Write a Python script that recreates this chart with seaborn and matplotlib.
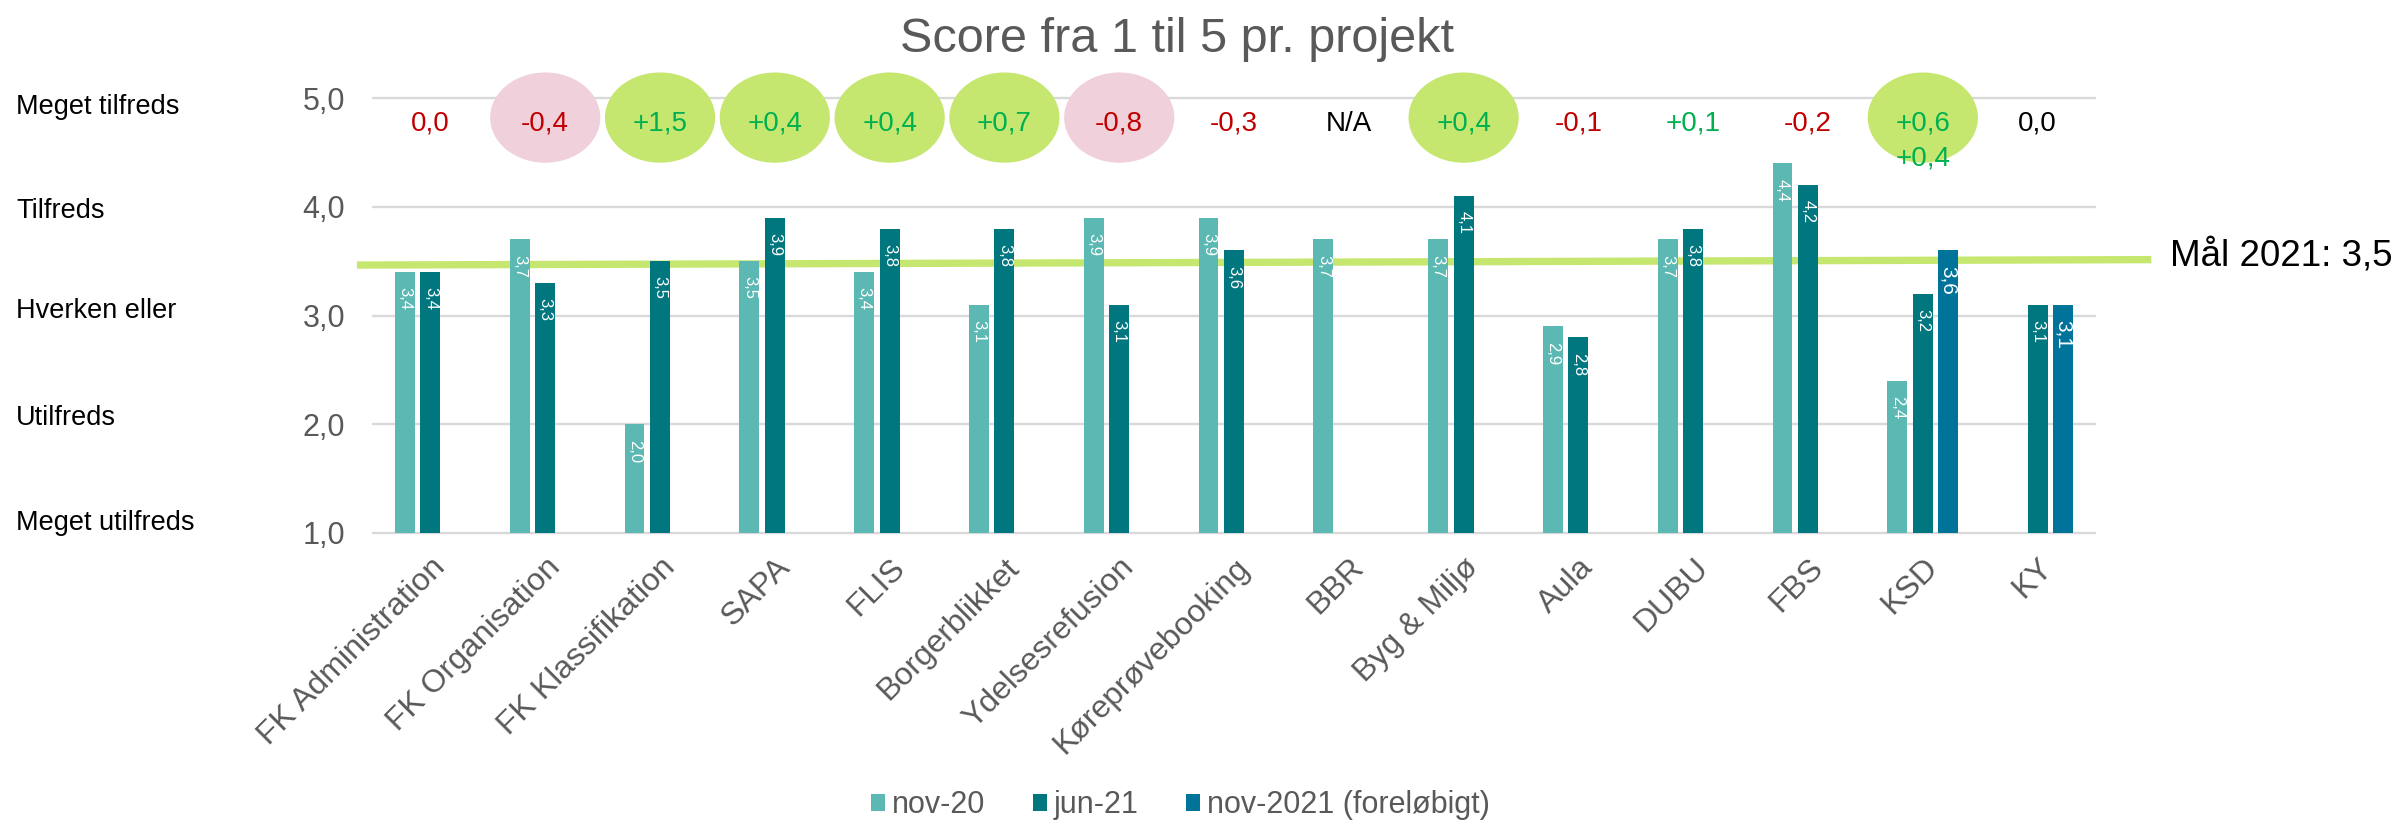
import numpy as np
import pandas as pd
import seaborn as sns
import matplotlib.pyplot as plt
from matplotlib.patches import Ellipse
from matplotlib import transforms

# Data
projects = ['FK Administration', 'FK Organisation', 'FK Klassifikation', 'SAPA', 'FLIS',
            'Borgerblikket', 'Ydelsesrefusion', 'Køreprøvebooking', 'BBR', 'Byg & Miljø',
            'Aula', 'DUBU', 'FBS', 'KSD', 'KY']
periods = ['nov-20', 'jun-21', 'nov-2021 (foreløbigt)']
nan = np.nan
nov20 = [3.4, 3.7, 2.0, 3.5, 3.4, 3.1, 3.9, 3.9, 3.7, 3.7, 2.9, 3.7, 4.4, 2.4, nan]
jun21 = [3.4, 3.3, 3.5, 3.9, 3.8, 3.8, 3.1, 3.6, nan, 4.1, 2.8, 3.8, 4.2, 3.2, 3.1]
nov21 = [nan, nan, nan, nan, nan, nan, nan, nan, nan, nan, nan, nan, nan, 3.6, 3.1]

changes = ['0,0', '-0,4', '+1,5', '+0,4', '+0,4', '+0,7', '-0,8', '-0,3', 'N/A', '+0,4',
           '-0,1', '+0,1', '-0,2', '+0,6\n+0,4', '0,0']
change_colors = ['red', 'red', 'green', 'green', 'green', 'green', 'red', 'red', 'black',
                 'green', 'red', 'green', 'red', 'green', 'black']
circles = ['', 'pink', 'green', 'green', 'green', 'green', 'pink', '', '', 'green',
           '', '', '', 'green', '']

levels = ['Meget tilfreds', 'Tilfreds', 'Hverken eller', 'Utilfreds', 'Meget utilfreds']
goal_label = 'Mål 2021: 3,5'

df = pd.DataFrame({
    'Projekt': projects * 3,
    'Periode': np.repeat(periods, len(projects)),
    'Score': nov20 + jun21 + nov21,
}).dropna()

bar_colors = ['#5BB8B2', '#00767F', '#00739B']
text_colors = {'red': '#C00000', 'green': '#00B050', 'black': '#000000'}
circle_colors = {'pink': '#F0D0DA', 'green': '#C6E76F'}
goal_color = '#C6E76F'
grey = '#595959'

sns.set_style('white')
plt.rcParams['font.family'] = ['Liberation Sans', 'DejaVu Sans']

fig = plt.figure(figsize=(24.02, 8.21), dpi=100)
ax = fig.add_axes([0.1553, 0.3508, 0.7169, 0.5298])

sns.barplot(data=df, x='Projekt', y='Score', hue='Periode', order=projects,
            hue_order=periods, palette=bar_colors, saturation=1, width=0.666, gap=0.22,
            errorbar=None, linewidth=0, ax=ax)

ax.set_xlim(-0.5, len(projects) - 0.5)
ax.set_ylim(1, 5)
ax.set_xlabel('')
ax.set_ylabel('')
for s in ax.spines.values():
    s.set_visible(False)

ax.set_yticks([1, 2, 3, 4, 5])
ax.set_yticklabels([f'{v:.1f}'.replace('.', ',') for v in [1, 2, 3, 4, 5]],
                   fontsize=22, color=grey)
ax.tick_params(axis='y', length=0, pad=20)
ax.tick_params(axis='x', length=0, pad=14)
ax.set_xticks(range(len(projects)))
ax.set_xticklabels(projects, rotation=45, ha='right', rotation_mode='anchor',
                   fontsize=23, color=grey)

ax.grid(axis='y', color='#D9D9D9', linewidth=1.7)
ax.set_axisbelow(True)
for gl in ax.get_ygridlines():
    gl.set_clip_on(False)

# value labels inside the bars
for container, size in zip(ax.containers, [12, 12, 15]):
    for bar in container:
        top = bar.get_y() + bar.get_height()
        if np.isnan(top) or bar.get_height() == 0:
            continue
        ax.annotate(f'{top:.1f}'.replace('.', ','),
                    (bar.get_x() + bar.get_width() / 2, top),
                    xytext=(0, -11), textcoords='offset points', rotation=270,
                    ha='center', va='top', color='white', fontsize=size, zorder=5)

# goal line
ax.plot([-0.64, 14.99], [3.464, 3.514], color=goal_color, lw=5.3,
        solid_capstyle='butt', clip_on=False, zorder=0.8)
ax.text(15.15, 3.464, goal_label, ha='left', va='baseline', fontsize=26.5,
        color='black', clip_on=False)

# change since last measurement
for i, (txt, col, circ) in enumerate(zip(changes, change_colors, circles)):
    if circ:
        ax.add_patch(Ellipse((i, 4.82), 0.96, 0.83, facecolor=circle_colors[circ],
                             edgecolor='none', clip_on=False, zorder=2))
    for j, line in enumerate(txt.split('\n')):
        ax.text(i, 4.70 - j * 0.32, line, ha='center', va='baseline', fontsize=20,
                color=text_colors[col], zorder=3, clip_on=False)

# satisfaction levels on the left
trans = transforms.blended_transform_factory(fig.transFigure, ax.transData)
for lab, y in zip(levels, [4.92, 3.96, 3.04, 2.06, 1.09]):
    ax.text(16 / 2402, y, lab, transform=trans, ha='left', va='center',
            fontsize=19.5, color='black')

fig.text(0.49, 1 - 40 / 821, 'Score fra 1 til 5 pr. projekt', ha='center',
         va='center', fontsize=35, color=grey)

leg = ax.get_legend()
handles = leg.legend_handles
labels = [t.get_text() for t in leg.get_texts()]
leg.remove()
fig.legend(handles, labels, loc='center', bbox_to_anchor=(0.4915, 0.0195), ncol=3,
           frameon=False, fontsize=22, handlelength=0.46, handleheight=0.49,
           handletextpad=0.23, columnspacing=1.55, labelcolor=grey)

fig.savefig('out.png', dpi=100)
